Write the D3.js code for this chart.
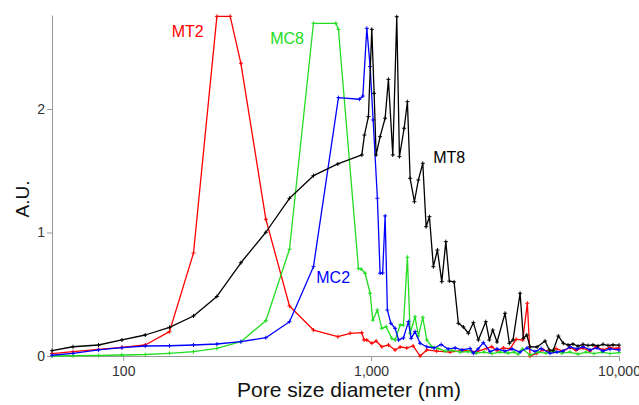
<!DOCTYPE html>
<html>
<head>
<meta charset="utf-8">
<script src="https://cdn.jsdelivr.net/npm/d3@7"></script>
<style>
  body { margin: 0; background: #fff; }
  text { font-family: "Liberation Sans", Arial, sans-serif; }
</style>
</head>
<body>
<svg id="chart" width="639" height="405"></svg>
<script>
// data: [pore diameter (nm), A.U.]
var mt2 = [[51.6,0.02],[62.7,0.035],[79.5,0.054],[98.8,0.07],[122.7,0.089],[153.7,0.197],[192.1,0.834],[238.7,2.75],[270.1,2.75],[298.3,2.37],[376.2,1.107],[468.5,0.405],[585.3,0.21],[734.1,0.156],[823,0.184],[917.4,0.189],[937.1,0.13],[960.9,0.13],[1006.5,0.103],[1047.6,0.121],[1104.4,0.075],[1174.4,0.089],[1249.6,0.049],[1309,0.073],[1393,0.065],[1477,0.081],[1576,0.0],[1677,0.049],[1840,0.04],[2083,0.032],[2350,0.045],[2669,0.036],[2928,0.062],[3067,0.075],[3221,0.043],[3416,0.065],[3635,0.057],[3843,0.135],[4090,0.13],[4268,0.427],[4377,0.0],[4658,0.022],[4938,0.05],[5271,0.035],[5572,0.06],[5946,0.04],[6343,0.07],[6707,0.045],[7157,0.065],[7640,0.04],[8079,0.075],[8620,0.05],[9198,0.07],[9725,0.06],[10000,0.065]];

var mc8 = [[51.6,0.0],[62.7,0.002],[79.5,0.004],[98.8,0.008],[122.7,0.012],[153.7,0.022],[192.1,0.035],[238.7,0.061],[298.3,0.116],[376.2,0.286],[468.5,0.864],[585.3,2.694],[720.6,2.694],[738.2,2.645],[889,0.71],[911.6,0.704],[946,0.67],[990.8,0.508],[1016,0.291],[1060,0.372],[1104,0.224],[1149,0.237],[1212,0.143],[1250,0.13],[1309,0.251],[1350,0.251],[1401,0.8],[1437,0.184],[1504,0.318],[1551,0.162],[1616,0.313],[1677,0.13],[1758,0.075],[1863,0.061],[1988,0.04],[2121,0.045],[2285,0.032],[2461,0.036],[2651,0.024],[2855,0.032],[3075,0.02],[3313,0.032],[3568,0.024],[3773,0.032],[3915,0.016],[4078,0.057],[4377,0.008],[4715,0.032],[5077,0.024],[5468,0.04],[5891,0.024],[6343,0.032],[6834,0.016],[7360,0.032],[7929,0.02],[8541,0.032],[9198,0.02],[10000,0.028]];

var mc2 = [[51.6,0.006],[62.7,0.022],[79.5,0.049],[98.8,0.067],[122.7,0.081],[153.7,0.083],[192.1,0.089],[238.7,0.097],[298.3,0.116],[376.2,0.148],[468.5,0.278],[585.3,0.723],[738.2,2.092],[897.2,2.079],[926,2.105],[960.9,2.653],[990.8,2.343],[1019,1.911],[1060,1.277],[1087,0.67],[1113,0.672],[1139,1.134],[1163,0.372],[1201,0.265],[1250,0.224],[1291,0.13],[1350,0.146],[1414,0.278],[1450,0.143],[1504,0.197],[1576,0.103],[1677,0.075],[1795,0.065],[1916,0.093],[2045,0.057],[2182,0.065],[2328,0.049],[2508,0.061],[2585,0.022],[2701,0.057],[2837,0.108],[3019,0.035],[3221,0.057],[3470,0.04],[3703,0.057],[3990,0.032],[4256,0.065],[4584,0.036],[4848,0.061],[5271,0.022],[5623,0.032],[5946,0.04],[6343,0.073],[6769,0.057],[7157,0.075],[7640,0.049],[8154,0.065],[8620,0.04],[9198,0.057],[10000,0.049]];

var mt8 = [[51.6,0.043],[62.7,0.075],[79.5,0.089],[98.8,0.13],[122.7,0.17],[153.7,0.232],[192.1,0.324],[238.7,0.482],[298.3,0.755],[376.2,1.002],[468.5,1.277],[585.3,1.46],[734.1,1.555],[917.4,1.628],[939.8,1.789],[975.2,1.938],[1006.5,2.645],[1028.3,2.127],[1047.6,1.628],[1087,1.776],[1139,1.925],[1174.4,2.24],[1223,1.628],[1269,2.747],[1301,1.614],[1359,1.844],[1401,2.059],[1437,1.439],[1495,1.249],[1551,1.425],[1616,1.56],[1667,1.047],[1719,1.128],[1783,0.723],[1851,0.858],[1928,0.602],[2002,0.926],[2069,0.607],[2161,0.6],[2249,0.265],[2356,0.235],[2469,0.184],[2585,0.27],[2708,0.13],[2901,0.278],[2999,0.13],[3095,0.21],[3221,0.113],[3470,0.346],[3611,0.103],[3737,0.13],[3990,0.508],[4114,0.143],[4246,0.17],[4377,0.075],[4672,0.073],[5030,0.121],[5236,0.049],[5419,0.043],[5692,0.162],[5962,0.103],[6229,0.089],[6524,0.097],[6834,0.08],[7157,0.095],[7499,0.085],[7856,0.09],[8229,0.082],[8620,0.095],[9029,0.085],[9458,0.09],[10000,0.088]];

var seriesNames = ["MT2", "MC8", "MC2", "MT8"];
var seriesColors = ["#ff0000", "#22dd22", "#0000ff", "#000000"];
var seriesData = [mt2, mc8, mc2, mt8];
// label anchor points, in data units
var labelSpots = [[182, 2.58], [458, 2.53], [703, 0.59], [2064, 1.56]];

var xMajor = [100, 1000, 10000];
var xMajorLabels = ["100", "1,000", "10,000"];
var xMinor = [60, 80, 200, 400, 600, 800, 2000, 4000, 6000, 8000];
var yMajor = [0, 1, 2];
var yMinor = [0.2, 0.4, 0.6, 0.8, 1.2, 1.4, 1.6, 1.8, 2.2, 2.4, 2.6];

var svg = d3.select("#chart");
var axisColor = "#999";

var x = d3.scaleLog().domain([51.6, 10000]).range([52, 619]);
var y = d3.scaleLinear().domain([0, 2.761]).range([356, 15]);

// x axis
var gx = svg.append("g").attr("transform", "translate(0,356)");
gx.call(d3.axisBottom(x).tickValues(xMinor).tickSize(3).tickSizeOuter(0).tickFormat(""));
gx.call(d3.axisBottom(x).tickValues(xMajor).tickSize(5).tickSizeOuter(0).tickPadding(5)
  .tickFormat(function(d, i) { return xMajorLabels[i]; }));
gx.selectAll("path, line").attr("stroke", axisColor);
gx.selectAll("text").attr("fill", "#333").style("font-size", "14px");

// y axis
var gy = svg.append("g").attr("transform", "translate(52,0)");
gy.call(d3.axisLeft(y).tickValues(yMinor).tickSize(3).tickSizeOuter(0).tickFormat(""));
gy.call(d3.axisLeft(y).tickValues(yMajor).tickSize(5).tickSizeOuter(0).tickPadding(2)
  .tickFormat(d3.format("d")));
gy.selectAll("path, line").attr("stroke", axisColor);
gy.selectAll("text").attr("fill", "#333").style("font-size", "14px");

// titles
svg.append("text")
  .attr("x", 349).attr("y", 397)
  .attr("text-anchor", "middle")
  .attr("fill", "#111")
  .style("font-size", "21px")
  .text("Pore size diameter (nm)");

svg.append("text")
  .attr("transform", "translate(29,199) rotate(-90)")
  .attr("text-anchor", "middle")
  .attr("fill", "#111")
  .style("font-size", "19px")
  .text("A.U.");

// curves
var line = d3.line()
  .x(function(d) { return x(d[0]); })
  .y(function(d) { return y(d[1]); });

var series = svg.selectAll(".series")
  .data(seriesData)
  .enter()
  .append("g")
  .attr("class", "series");

series.append("path")
  .attr("fill", "none")
  .attr("stroke", function(d, i) { return seriesColors[i]; })
  .attr("stroke-width", 1.3)
  .attr("stroke-linejoin", "round")
  .attr("d", line);

series.each(function(s, i) {
  d3.select(this).selectAll(".mark")
    .data(s)
    .enter()
    .append("path")
    .attr("class", "mark")
    .attr("transform", function(d) { return "translate(" + x(d[0]) + "," + y(d[1]) + ")"; })
    .attr("d", "M-2,0H2M0,-2V2")
    .attr("stroke", seriesColors[i])
    .attr("stroke-width", 1);
});

// labels
svg.selectAll(".lbl")
  .data(seriesNames)
  .enter()
  .append("text")
  .attr("class", "lbl")
  .attr("x", function(d, i) { return x(labelSpots[i][0]); })
  .attr("y", function(d, i) { return y(labelSpots[i][1]); })
  .attr("text-anchor", "middle")
  .attr("fill", function(d, i) { return seriesColors[i]; })
  .style("font-size", "16px")
  .text(function(d) { return d; });
</script>
</body>
</html>
